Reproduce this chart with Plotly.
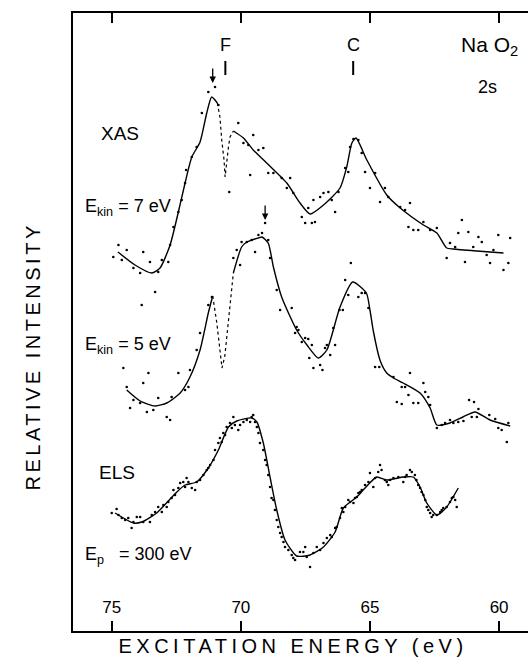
import plotly.graph_objects as go

# ---------------- data (excitation energy in eV, relative intensity in arbitrary units) -------------
# XAS, E_kin = 7 eV : fitted line (two solid parts) and dense dip (dotted)
xas7_line1_E = [74.76, 74.10, 73.45, 73.13, 72.74, 72.42, 72.16, 71.90, 71.58, 71.32, 71.13, 70.91]
xas7_line1_I = [379, 366, 358, 363, 386, 419, 448, 474, 489, 518, 534, 528]
xas7_dip_E = [70.91, 70.81, 70.74, 70.65, 70.61, 70.55, 70.48, 70.42, 70.29]
xas7_dip_I = [528, 514, 491, 471, 454, 471, 484, 494, 500]
xas7_line2_E = [70.29, 69.90, 69.52, 69.00, 68.22, 67.71, 67.32, 66.80, 66.16, 65.90, 65.70, 65.54,
                65.12, 64.35, 63.83, 62.93, 62.41, 62.03, 61.77, 60.86, 59.83]
xas7_line2_I = [500, 493, 481, 468, 448, 428, 417, 426, 443, 464, 488, 493,
                471, 436, 423, 406, 398, 383, 382, 380, 378]
xas7_dots = [
    (74.94, 374), (74.74, 386), (74.61, 371), (74.42, 381), (74.16, 363), (73.90, 358), (73.78, 379),
    (73.52, 369), (73.20, 359), (73.06, 371), (72.81, 369), (72.74, 386), (72.61, 404), (72.42, 419),
    (72.29, 431), (72.16, 448), (72.12, 461), (71.90, 474), (71.71, 484), (71.51, 518), (71.26, 539),
    (71.00, 544), (70.87, 526), (70.45, 439), (70.10, 508), (69.90, 488), (69.71, 486), (69.52, 496),
    (69.32, 481), (69.13, 483), (69.64, 456), (68.94, 458), (68.74, 458), (68.42, 453), (68.22, 443),
    (67.97, 438), (68.09, 453), (67.64, 414), (67.51, 408), (67.39, 423), (67.25, 408), (67.13, 409),
    (67.19, 431), (66.93, 434), (66.80, 438), (66.61, 439), (66.48, 431), (66.35, 419), (66.22, 439),
    (65.96, 463), (65.84, 459), (65.77, 484), (65.64, 492), (65.45, 491), (65.32, 478), (65.19, 459),
    (65.00, 443), (64.80, 458), (64.61, 429), (64.42, 443), (64.29, 434), (63.83, 424), (63.64, 421),
    (63.45, 428), (63.51, 404), (63.32, 401), (63.13, 401), (62.93, 409), (62.67, 401), (62.41, 403),
    (62.03, 373), (61.90, 388), (61.70, 384), (61.58, 398), (61.44, 411), (61.32, 369), (61.19, 399),
    (61.00, 384), (60.80, 394), (60.67, 389), (60.48, 376), (60.35, 368), (60.22, 381), (60.03, 396),
    (59.83, 361), (59.64, 368), (59.57, 393),
]

# XAS, E_kin = 5 eV
e5_line1_E = [74.42, 73.90, 73.32, 72.87, 72.35, 71.97, 71.58, 71.26, 71.09]
e5_line1_I = [241, 230, 225, 228, 238, 254, 281, 318, 335]
e5_dip_E = [71.09, 70.93, 70.81, 70.73, 70.62, 70.52, 70.39, 70.29]
e5_dip_I = [335, 308, 281, 263, 275, 301, 328, 358]
e5_line2_E = [70.29, 69.97, 69.77, 69.58, 69.32, 69.18, 68.94, 68.74, 68.42, 67.84, 67.44, 67.00,
              66.67, 66.16, 65.67, 65.14, 65.00, 64.87, 64.60, 64.35, 64.09, 63.71, 63.06, 62.67,
              62.41, 61.90, 61.40, 60.93, 60.35, 59.57]
e5_line2_I = [358, 384, 389, 391, 393, 394, 388, 364, 334, 301, 286, 273,
              281, 324, 349, 338, 321, 300, 270, 258, 253, 248, 238, 223,
              206, 208, 214, 219, 211, 205]
e5_dots = [
    (73.84, 326), (73.32, 339), (74.55, 263), (74.42, 244), (74.29, 223), (74.16, 231), (73.78, 248),
    (73.90, 228), (73.58, 258), (73.64, 219), (73.39, 221), (73.20, 233), (72.87, 214), (72.74, 211),
    (72.68, 234), (72.42, 258), (72.16, 241), (72.03, 244), (71.97, 261), (71.71, 281), (71.58, 298),
    (71.26, 326), (71.12, 334), (70.29, 373), (70.16, 381), (70.03, 366), (69.97, 389), (69.77, 389),
    (69.58, 391), (69.45, 379), (69.32, 396), (69.18, 398), (69.06, 408), (68.94, 391), (68.87, 373),
    (68.61, 341), (68.48, 321), (68.03, 323), (67.90, 298), (67.84, 304), (67.77, 301), (67.64, 289),
    (67.51, 293), (67.39, 292), (67.25, 286), (67.35, 273), (67.19, 263), (66.93, 266), (66.84, 261),
    (66.74, 283), (66.67, 286), (66.54, 276), (66.42, 303), (66.35, 286), (66.18, 321), (66.05, 321),
    (65.96, 351), (65.84, 336), (65.74, 368), (65.45, 334), (65.32, 338), (65.19, 338), (65.06, 323),
    (64.80, 264), (64.64, 264), (64.09, 254), (63.77, 244), (63.64, 244), (63.45, 258), (63.51, 236),
    (63.96, 229), (63.77, 227), (63.32, 228), (63.13, 228), (62.93, 248), (62.86, 239), (62.74, 234),
    (62.67, 226), (62.41, 203), (62.22, 206), (62.09, 208), (61.90, 211), (61.77, 208), (61.58, 209),
    (61.38, 210), (61.16, 231), (60.97, 229), (60.80, 222), (61.06, 214), (60.86, 214), (60.38, 216),
    (60.15, 212), (60.03, 203), (59.90, 201), (59.64, 208), (59.70, 189),
]

# ELS, E_p = 300 eV
els_E = [74.87, 74.16, 73.84, 73.26, 72.48, 72.16, 71.71, 71.26, 70.87, 70.48, 70.16, 69.58, 69.38,
         69.13, 68.87, 68.61, 68.29, 67.84, 67.32, 66.80, 66.35, 66.03, 65.51, 65.19, 64.74, 64.35,
         63.71, 63.32, 63.06, 62.80, 62.41, 62.03, 61.58]
els_I = [118, 108, 109, 118, 139, 146, 149, 163, 181, 204, 210, 213, 209,
         188, 154, 121, 91, 75, 76, 84, 99, 123, 134, 143, 154, 151,
         154, 154, 144, 128, 116, 124, 143]
els_dots = [
    (75.00, 118), (74.81, 122), (74.74, 116), (74.61, 113), (74.48, 111), (74.36, 113), (74.23, 103),
    (74.16, 109), (74.03, 114), (73.90, 114), (73.78, 109), (73.52, 109), (73.45, 116), (73.32, 119),
    (73.20, 124), (73.06, 119), (73.00, 126), (72.87, 124), (72.81, 129), (72.68, 133), (72.61, 141),
    (72.55, 136), (72.42, 143), (72.35, 148), (72.23, 149), (72.16, 144), (72.10, 153), (72.03, 149),
    (71.90, 143), (71.77, 141), (71.71, 149), (71.58, 151), (71.45, 156), (71.32, 161), (71.26, 163),
    (71.19, 166), (71.06, 171), (71.00, 181), (70.87, 188), (70.81, 193), (70.74, 189), (70.68, 198),
    (70.61, 196), (70.55, 204), (70.42, 208), (70.35, 203), (70.29, 214), (70.23, 206), (70.10, 201),
    (70.03, 206), (69.90, 209), (69.77, 211), (69.64, 209), (69.58, 214), (69.52, 216), (69.45, 209),
    (69.38, 204), (69.32, 198), (69.26, 188), (69.13, 181), (69.06, 171), (69.00, 166), (68.94, 156),
    (68.87, 144), (68.81, 133), (68.74, 131), (68.68, 121), (68.61, 111), (68.55, 104), (68.48, 98),
    (68.42, 94), (68.35, 89), (68.29, 84), (68.16, 81), (68.03, 76), (67.97, 73), (67.90, 71),
    (67.71, 79), (67.58, 79), (67.51, 84), (67.45, 74), (67.32, 64), (67.19, 78), (67.06, 84),
    (66.93, 81), (66.80, 88), (66.67, 93), (66.54, 96), (66.48, 94), (66.35, 103), (66.29, 104),
    (66.16, 113), (66.09, 123), (66.03, 119), (65.96, 124), (65.84, 131), (65.77, 129), (65.64, 128),
    (65.58, 133), (65.51, 134), (65.45, 138), (65.38, 139), (65.32, 141), (65.19, 146), (65.06, 149),
    (65.00, 158), (64.87, 144), (64.80, 153), (64.68, 159), (64.61, 166), (64.55, 161), (64.42, 151),
    (64.35, 149), (64.29, 146), (64.22, 151), (64.09, 153), (63.90, 154), (63.71, 149), (63.64, 154),
    (63.58, 156), (63.45, 161), (63.38, 159), (63.26, 156), (63.20, 151), (63.13, 146), (63.06, 143),
    (63.00, 139), (62.93, 136), (62.86, 131), (62.80, 124), (62.74, 121), (62.67, 118), (62.61, 114),
    (62.55, 116), (62.41, 116), (62.28, 119), (62.22, 121), (62.16, 123), (62.03, 124), (61.90, 129),
    (61.83, 133), (61.77, 134), (61.70, 131), (61.64, 124),
]

x_ticks = [75, 70, 65, 60]
edge_labels = ["F", "C"]
edge_E = [70.6, 65.65]
arrow_E = [71.09, 69.06]
arrow_I = [548, 411]

# ---------------- figure -------------
W, H = 528, 669
L, R, T, B = 73, 0, 13, 38
FONT = "Liberation Sans"


def fx(p):
    return (p - L) / (W - L - R)


def fy(p):
    return (H - B - p) / (H - T - B)


fig = go.Figure()

line_style = dict(color="black", width=1.4, shape="spline", smoothing=0.6)
dip_style = dict(color="black", width=1.2, dash="dot")
dot_style = dict(color="black", size=2.6)

for lines, dip, dots in [
    ((xas7_line1_E, xas7_line1_I, xas7_line2_E, xas7_line2_I), (xas7_dip_E, xas7_dip_I), xas7_dots),
    ((e5_line1_E, e5_line1_I, e5_line2_E, e5_line2_I), (e5_dip_E, e5_dip_I), e5_dots),
]:
    fig.add_trace(go.Scatter(x=lines[0], y=lines[1], mode="lines", line=line_style, hoverinfo="skip"))
    fig.add_trace(go.Scatter(x=lines[2], y=lines[3], mode="lines", line=line_style, hoverinfo="skip"))
    fig.add_trace(go.Scatter(x=dip[0], y=dip[1], mode="lines", line=dip_style, hoverinfo="skip"))
    fig.add_trace(go.Scatter(x=[d[0] for d in dots], y=[d[1] for d in dots], mode="markers",
                             marker=dot_style, hoverinfo="skip"))

fig.add_trace(go.Scatter(x=els_E, y=els_I, mode="lines", line=line_style, hoverinfo="skip"))
fig.add_trace(go.Scatter(x=[d[0] for d in els_dots], y=[d[1] for d in els_dots], mode="markers",
                         marker=dot_style, hoverinfo="skip"))

annotations = []


def txt(text, x, y, size, xanchor="center", yanchor="middle", angle=0):
    annotations.append(dict(text=text, x=fx(x), y=fy(y), xref="paper", yref="paper",
                            xanchor=xanchor, yanchor=yanchor, showarrow=False, textangle=angle,
                            font=dict(family=FONT, size=size, color="black")))


txt("XAS", 120, 133, 19)
txt("E<sub>kin</sub> = 7 eV", 83, 208, 18, xanchor="left")
txt("E<sub>kin</sub> = 5 eV", 83, 345, 18, xanchor="left")
txt("ELS", 117, 472, 19)
txt("E<sub>p</sub>\u00a0\u00a0\u00a0= 300 eV", 83, 555, 18, xanchor="left")
txt("Na O<sub>2</sub>", 489, 46, 21)
txt("2s", 487, 87, 18)
txt("EXCITATION ENERGY (eV)", 293, 646, 20)
txt("RELATIVE INTENSITY", 33, 357, 20, angle=-90)

for lab, e in zip(edge_labels, edge_E):
    annotations.append(dict(text=lab, x=e, y=fy(45), xref="x", yref="paper", showarrow=False,
                            xanchor="center", yanchor="middle",
                            font=dict(family=FONT, size=18, color="black")))
    fig.add_shape(type="line", x0=e, x1=e, xref="x", y0=fy(75), y1=fy(61), yref="paper",
                  line=dict(color="black", width=2))

for e, i in zip(arrow_E, arrow_I):
    annotations.append(dict(text="", x=e, y=i, xref="x", yref="y", showarrow=True, ax=0, ay=-16,
                            arrowhead=2, arrowsize=1, arrowwidth=1.3, arrowcolor="black"))

fig.update_layout(
    width=W, height=H, margin=dict(l=L, r=R, t=T, b=B),
    paper_bgcolor="white", plot_bgcolor="white", showlegend=False,
    annotations=annotations,
    xaxis=dict(range=[76.5, 58.88], showgrid=False, zeroline=False, showline=True, linecolor="black",
               linewidth=2, mirror="ticks", ticks="inside", ticklen=10, tickwidth=2, tickcolor="black",
               tickvals=x_ticks, ticktext=[str(v) for v in x_ticks], ticklabelposition="inside",
               ticklabelstandoff=5,
               tickfont=dict(family=FONT, size=17, color="black")),
    yaxis=dict(range=[0, 618], showgrid=False, zeroline=False, showline=True, linecolor="black",
               linewidth=2, mirror=False, ticks="", showticklabels=False),
)

post = """
var gd = document.getElementById('{plot_id}');
gd.querySelectorAll('text.annotation-text').forEach(function(t){
  var s = t.textContent;
  if (s === 'EXCITATION ENERGY (eV)') { t.setAttribute('letter-spacing', '4.5px'); }
  if (s === 'RELATIVE INTENSITY') { t.setAttribute('letter-spacing', '3.5px'); }
});
"""

fig.write_html("out.html", post_script=post)
